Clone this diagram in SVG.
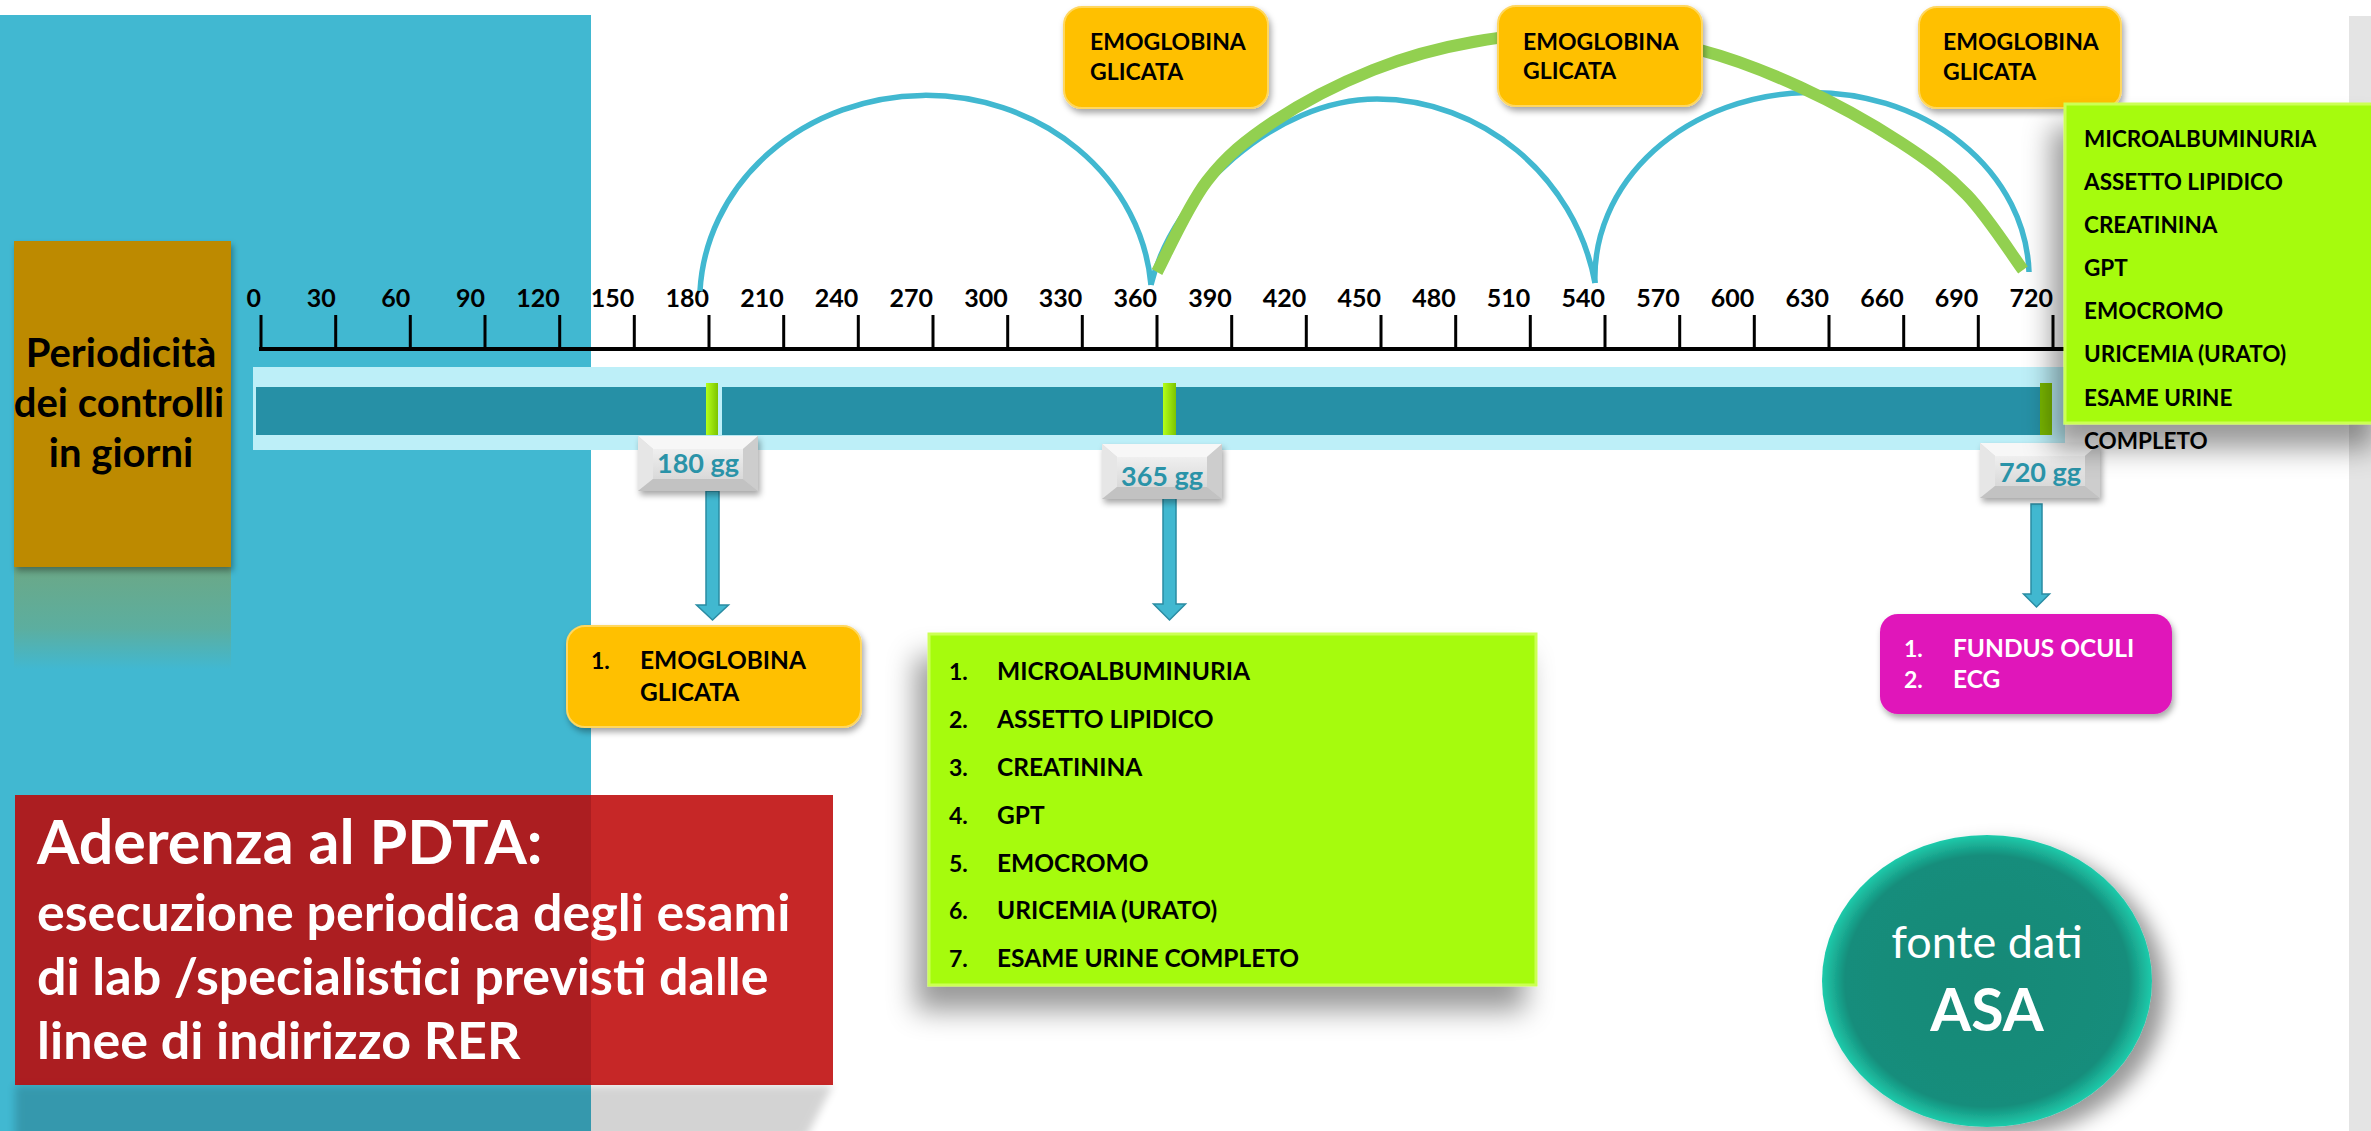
<svg xmlns="http://www.w3.org/2000/svg" width="2371" height="1131" viewBox="0 0 2371 1131">
<defs>
<style>
text{font-family:Lato,"Liberation Sans",sans-serif}
.ax{font-size:25px;font-weight:700;fill:#000;text-anchor:end}
.tick{stroke:#000;stroke-width:3;fill:none}
.arc{fill:none;stroke:#41B8D0;stroke-width:5.5}
.garc{fill:none;stroke:#92D050;stroke-width:12}
.arrow{fill:#41B8D0;stroke:#2A8CA3;stroke-width:1.5}
.orange{fill:#FFC000;stroke:#FFD75E;stroke-width:2}
.lime{fill:#A6FB0F;stroke:#CCFF55;stroke-width:3}
.t23{font-size:23px;font-weight:700;fill:#000}
.t22{font-size:22.5px;font-weight:700;fill:#000}
.t24{font-size:24.5px;font-weight:700;fill:#000}
.num{font-size:23px;font-weight:700}
.gg{font-size:27px;font-weight:700;fill:#2A93A8;text-anchor:middle}
.red{font-weight:700;fill:#fff}
</style>
<filter id="sh" x="-20%" y="-20%" width="150%" height="170%"><feDropShadow dx="2" dy="4" stdDeviation="3" flood-color="#000" flood-opacity="0.35"/></filter>
<filter id="shBig" x="-25%" y="-25%" width="150%" height="170%"><feDropShadow dx="-12" dy="24" stdDeviation="14" flood-color="#000" flood-opacity="0.4"/></filter>
<filter id="shCirc" x="-20%" y="-20%" width="150%" height="150%"><feDropShadow dx="14" dy="10" stdDeviation="10" flood-color="#000" flood-opacity="0.4"/></filter>
<filter id="blur" x="-10%" y="-50%" width="120%" height="200%"><feGaussianBlur stdDeviation="4"/></filter>
<linearGradient id="bevC" x1="0" y1="0" x2="0" y2="1"><stop offset="0" stop-color="#EFEFEF"/><stop offset="1" stop-color="#D9D9D9"/></linearGradient>
<linearGradient id="refl" x1="0" y1="0" x2="0" y2="1"><stop offset="0" stop-color="#6BA887"/><stop offset="0.6" stop-color="#5CAE9F"/><stop offset="1" stop-color="#41B8D1"/></linearGradient>
<radialGradient id="circ" cx="0.5" cy="0.5" r="0.5"><stop offset="0" stop-color="#138977"/><stop offset="0.86" stop-color="#158D7B"/><stop offset="1" stop-color="#1FCBAB"/></radialGradient>
<linearGradient id="mark" x1="0" y1="0" x2="1" y2="0"><stop offset="0" stop-color="#B4FF1A"/><stop offset="1" stop-color="#7CC400"/></linearGradient>
<g id="bevel">
 <rect width="120" height="55" fill="#DADADA"/>
 <polygon points="0,0 120,0 105,13 15,13" fill="#F7F7F7"/>
 <polygon points="0,0 15,13 15,43 0,55" fill="#E6E6E6"/>
 <polygon points="120,0 120,55 105,43 105,13" fill="#CDCDCD"/>
 <polygon points="0,55 15,43 105,43 120,55" fill="#C2C2C2"/>
 <rect x="15" y="13" width="90" height="30" fill="url(#bevC)"/>
</g>
</defs>

<rect width="2371" height="1131" fill="#FFFFFF"/>
<rect x="2349" y="16" width="22" height="1115" fill="#E4E4E4"/>
<rect x="0" y="15" width="591" height="1116" fill="#41B8D1"/>

<g id="periodicita">
 <rect x="14" y="567" width="217" height="102" fill="url(#refl)"/>
 <rect x="14" y="241" width="217" height="326" fill="#BD8A00" filter="url(#sh)"/>
 <text x="121" y="367" text-anchor="middle" font-size="40" font-weight="700" fill="#000">Periodicità</text>
 <text x="119" y="417" text-anchor="middle" font-size="40" font-weight="700" fill="#000">dei controlli</text>
 <text x="121" y="467" text-anchor="middle" font-size="40" font-weight="700" fill="#000">in giorni</text>
</g>

<g id="timeline">
 <rect x="253" y="367" width="1812" height="83" fill="#BDEFF8"/>
 <rect x="256" y="387" width="450" height="48" fill="#2690A6"/>
 <rect x="722" y="387" width="1318" height="48" fill="#2690A6"/>
 <rect x="706" y="383" width="12" height="52" fill="url(#mark)"/>
 <rect x="1163" y="383" width="13" height="52" fill="url(#mark)"/>
 <rect x="2040" y="383" width="12" height="52" fill="#7AB800"/>
 <path d="M259 349H2065" stroke="#000" stroke-width="4"/>
 <path class="tick" d="M261 315V349M335.7 315V349M410.3 315V349M485 315V349M559.7 315V349M634.3 315V349M709 315V349M783.7 315V349M858.3 315V349M933 315V349M1007.7 315V349M1082.3 315V349M1157 315V349M1231.7 315V349M1306.3 315V349M1381 315V349M1455.7 315V349M1530.3 315V349M1605 315V349M1679.7 315V349M1754.3 315V349M1829 315V349M1903.7 315V349M1978.3 315V349M2053 315V349"/>
 <text class="ax" x="261" y="307">0</text>
 <text class="ax" x="335.7" y="307">30</text>
 <text class="ax" x="410.3" y="307">60</text>
 <text class="ax" x="485" y="307">90</text>
 <text class="ax" x="559.7" y="307">120</text>
 <text class="ax" x="634.3" y="307">150</text>
 <text class="ax" x="709" y="307">180</text>
 <text class="ax" x="783.7" y="307">210</text>
 <text class="ax" x="858.3" y="307">240</text>
 <text class="ax" x="933" y="307">270</text>
 <text class="ax" x="1007.7" y="307">300</text>
 <text class="ax" x="1082.3" y="307">330</text>
 <text class="ax" x="1157" y="307">360</text>
 <text class="ax" x="1231.7" y="307">390</text>
 <text class="ax" x="1306.3" y="307">420</text>
 <text class="ax" x="1381" y="307">450</text>
 <text class="ax" x="1455.7" y="307">480</text>
 <text class="ax" x="1530.3" y="307">510</text>
 <text class="ax" x="1605" y="307">540</text>
 <text class="ax" x="1679.7" y="307">570</text>
 <text class="ax" x="1754.3" y="307">600</text>
 <text class="ax" x="1829" y="307">630</text>
 <text class="ax" x="1903.7" y="307">660</text>
 <text class="ax" x="1978.3" y="307">690</text>
 <text class="ax" x="2053" y="307">720</text>
</g>

<g id="connectors">
 <path class="arc" d="M700 291A226 206 0 0 1 1151 285"/>
 <path class="arc" d="M1151 285C1172 195 1275 99 1377 99C1480 99 1575 175 1595 283"/>
 <path class="arc" d="M1595 283A217 185 0 0 1 2029 272"/>
 <path class="garc" d="M1157 272C1165.3 256.8 1187.7 206 1207 181C1226.3 156 1245.3 140.5 1273 122C1300.7 103.5 1339.7 83.3 1373 70C1406.3 56.7 1436.8 48.3 1473 42C1509.2 35.7 1552.2 30.7 1590 32C1627.8 33.3 1665 40.8 1700 50C1735 59.2 1766.7 71.7 1800 87C1833.3 102.3 1872.2 124 1900 142C1927.8 160 1946.5 173.7 1967 195C1987.5 216.3 2013.7 257.5 2023 270"/>
 <path class="arrow" d="M706 491H719V605H728.5L712.5 620L696.5 605H706Z"/>
 <path class="arrow" d="M1163 498H1176V604H1185.5L1169.5 620L1153.5 604H1163Z"/>
 <path class="arrow" d="M2031 504H2042V594H2049.5L2036.5 607L2023.5 594H2031Z"/>
</g>

<g id="hba1c-top-1">
 <rect class="orange" x="1064" y="7" width="204" height="101" rx="18" filter="url(#sh)"/>
 <text class="t23" x="1090" y="50">EMOGLOBINA</text>
 <text class="t23" x="1090" y="80">GLICATA</text>
</g>
<g id="hba1c-top-2">
 <rect class="orange" x="1498" y="6" width="204" height="100" rx="18" filter="url(#sh)"/>
 <text class="t23" x="1523" y="50">EMOGLOBINA</text>
 <text class="t23" x="1523" y="79">GLICATA</text>
</g>
<g id="hba1c-top-3">
 <rect class="orange" x="1919" y="7" width="202" height="101" rx="18" filter="url(#sh)"/>
 <text class="t23" x="1943" y="50">EMOGLOBINA</text>
 <text class="t23" x="1943" y="80">GLICATA</text>
</g>

<g id="label-180">
 <use href="#bevel" x="638" y="436" filter="url(#sh)"/>
 <text class="gg" x="698" y="473">180 gg</text>
</g>
<g id="label-365">
 <use href="#bevel" x="1102" y="444" filter="url(#sh)"/>
 <text class="gg" x="1162" y="486">365 gg</text>
</g>
<g id="label-720">
 <use href="#bevel" x="1980" y="443" filter="url(#sh)"/>
 <text class="gg" x="2040" y="482">720 gg</text>
</g>

<g id="esami-720-top">
 <rect class="lime" x="2065" y="104" width="320" height="319" filter="url(#shBig)"/>
 <text class="t22" x="2084" y="147">MICROALBUMINURIA</text>
 <text class="t22" x="2084" y="190">ASSETTO LIPIDICO</text>
 <text class="t22" x="2084" y="233">CREATININA</text>
 <text class="t22" x="2084" y="276">GPT</text>
 <text class="t22" x="2084" y="319">EMOCROMO</text>
 <text class="t22" x="2084" y="362">URICEMIA (URATO)</text>
 <text class="t22" x="2084" y="406">ESAME URINE</text>
 <text class="t22" x="2084" y="449">COMPLETO</text>
</g>

<g id="esami-180">
 <rect class="orange" x="567" y="626" width="294" height="101" rx="18" filter="url(#sh)"/>
 <text class="num" x="591" y="669">1.</text>
 <text class="t24" x="640" y="669">EMOGLOBINA</text>
 <text class="t24" x="640" y="701">GLICATA</text>
</g>

<g id="esami-365">
 <rect class="lime" x="929" y="634" width="607" height="351" filter="url(#shBig)"/>
 <text class="num" x="949" y="680">1.</text><text class="t24" x="997" y="680">MICROALBUMINURIA</text>
 <text class="num" x="949" y="728">2.</text><text class="t24" x="997" y="728">ASSETTO LIPIDICO</text>
 <text class="num" x="949" y="776">3.</text><text class="t24" x="997" y="776">CREATININA</text>
 <text class="num" x="949" y="824">4.</text><text class="t24" x="997" y="824">GPT</text>
 <text class="num" x="949" y="872">5.</text><text class="t24" x="997" y="872">EMOCROMO</text>
 <text class="num" x="949" y="919">6.</text><text class="t24" x="997" y="919">URICEMIA (URATO)</text>
 <text class="num" x="949" y="967">7.</text><text class="t24" x="997" y="967">ESAME URINE COMPLETO</text>
</g>

<g id="esami-720">
 <rect x="1880" y="614" width="292" height="100" rx="18" fill="#E015BA" filter="url(#sh)"/>
 <text class="num" x="1904" y="657" fill="#fff">1.</text>
 <text class="t24" x="1953" y="657" style="fill:#fff">FUNDUS OCULI</text>
 <text class="num" x="1904" y="688" fill="#fff">2.</text>
 <text class="t24" x="1953" y="688" style="fill:#fff">ECG</text>
</g>

<g id="aderenza">
 <polygon points="15,1085 833,1085 805,1140 15,1140" fill="#000" opacity="0.17" filter="url(#blur)"/>
 <rect x="15" y="795" width="818" height="290" fill="#BD0606" fill-opacity="0.865"/>
 <text class="red" x="37" y="864" font-size="61">Aderenza al PDTA:</text>
 <text class="red" x="37" y="931" font-size="52">esecuzione periodica degli esami</text>
 <text class="red" x="37" y="995" font-size="52">di lab /specialistici previsti dalle</text>
 <text class="red" x="37" y="1059" font-size="52">linee di indirizzo RER</text>
</g>

<g id="fonte">
 <ellipse cx="1987" cy="981" rx="165" ry="146" fill="url(#circ)" filter="url(#shCirc)"/>
 <text x="1987" y="958" text-anchor="middle" font-size="45" fill="#fff">fonte dati</text>
 <text x="1987" y="1031" text-anchor="middle" font-size="59" font-weight="700" fill="#fff">ASA</text>
</g>
</svg>
